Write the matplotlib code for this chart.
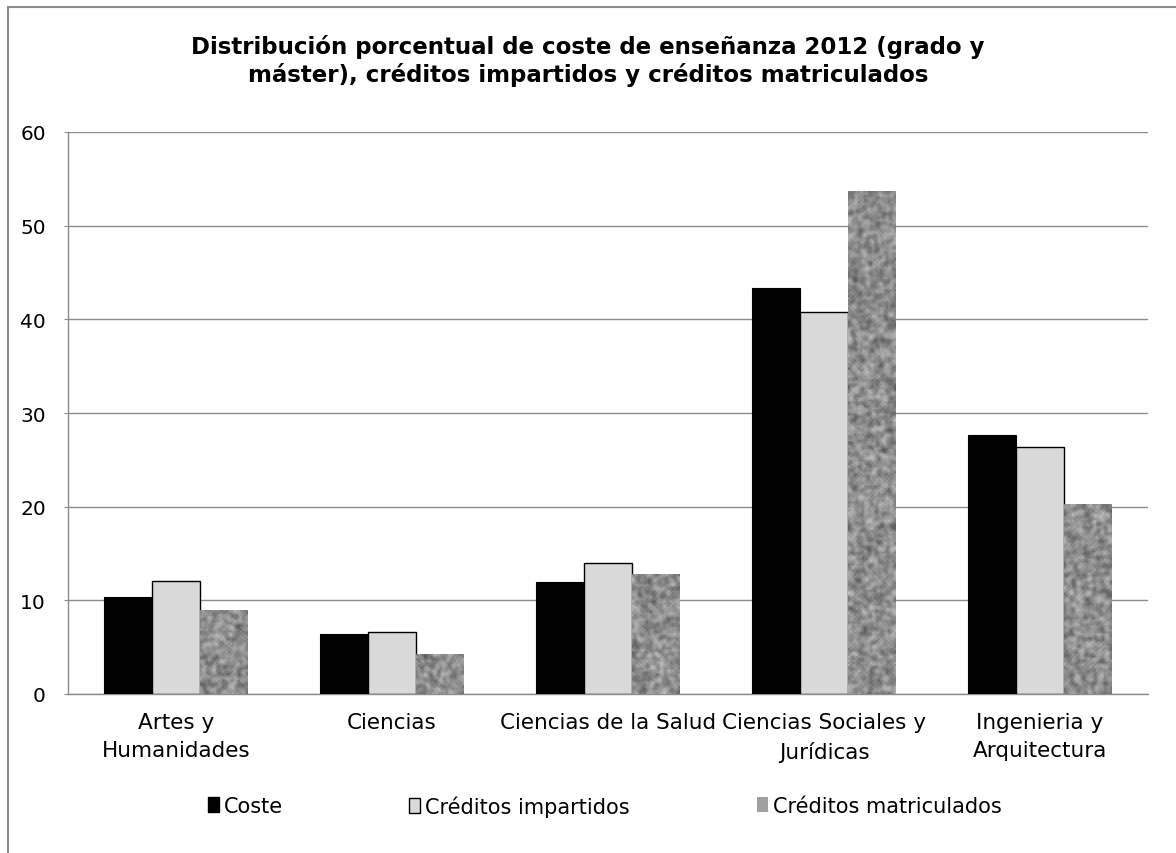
import numpy as np
import matplotlib
matplotlib.use("Agg")
import matplotlib.pyplot as plt
from matplotlib.patches import Rectangle, Patch

categories = ["Artes y\nHumanidades", "Ciencias", "Ciencias de la Salud",
              "Ciencias Sociales y\nJurídicas", "Ingenieria y\nArquitectura"]
coste = [10.4, 6.4, 12.0, 43.3, 27.6]
impartidos = [12.1, 6.6, 14.0, 40.8, 26.4]
matriculados = [8.9, 4.2, 12.8, 53.6, 20.2]
series_names = ["Coste", "Créditos impartidos", "Créditos matriculados"]
title = "Distribución porcentual de coste de enseñanza 2012 (grado y\nmáster), créditos impartidos y créditos matriculados"

plt.rcParams['font.family'] = ['DejaVu Sans']

fig = plt.figure(figsize=(11.76, 8.54), dpi=100)
fig.patch.set_facecolor("white")
# outer frame of the chart picture
fig.add_artist(Rectangle((8/1176, -0.1), 1.2, 1 - 8/854 + 0.1, transform=fig.transFigure,
                         fill=False, edgecolor="#8c8c8c", linewidth=1.5))

ax = fig.add_axes([68/1176, 1 - 695/854, (1148 - 68)/1176, (695 - 133)/854])
x = np.arange(len(categories))
w = 0.222
b1 = ax.bar(x - w, coste, w, color="black", edgecolor="black", linewidth=0.8, zorder=3)
b2 = ax.bar(x, impartidos, w, color="#d9d9d9", edgecolor="black", linewidth=1.0, zorder=3)
b3 = ax.bar(x + w, matriculados, w, color="#9a9a9a", edgecolor="none", linewidth=0, zorder=3)

# mottled texture for the third series (style only)
rng = np.random.default_rng(7)
def blur(a, k=1):
    out = a.copy()
    for _ in range(k):
        out = (out + np.roll(out, 1, 0) + np.roll(out, -1, 0) + np.roll(out, 1, 1) + np.roll(out, -1, 1)) / 5
    return out
for rect in b3:
    x0, y0 = rect.get_x(), rect.get_y()
    wd, ht = rect.get_width(), rect.get_height()
    npx_h = max(4, int(ht / 60 * 562 / 2.0))
    npx_w = max(4, int(48 / 2.0))
    tex = blur(rng.random((npx_h, npx_w)), 1)
    tex = (tex - tex.mean()) / (tex.std() + 1e-9)
    ax.imshow(tex, cmap="gray", vmin=-7.5, vmax=6.0, extent=(x0, x0 + wd, y0, y0 + ht),
              aspect="auto", interpolation="bilinear", zorder=3.5)

ax.set_xlim(-0.5, len(categories) - 0.5)
ax.set_ylim(0, 60)
ax.set_yticks(np.arange(0, 61, 10))
ax.yaxis.grid(True, color="#8c8c8c", linewidth=1.0, zorder=0)
ax.set_axisbelow(True)
for s in ["top", "right"]:
    ax.spines[s].set_visible(False)
for s in ["left", "bottom"]:
    ax.spines[s].set_color("#8c8c8c")
    ax.spines[s].set_linewidth(1.0)
ax.set_xticks(x)
ax.set_xticklabels(categories, fontsize=15.5, linespacing=1.5)
ax.tick_params(axis="x", length=0, pad=13)
ax.tick_params(axis="y", length=3, color="#8c8c8c", labelsize=14.5, pad=13)

fig.text(0.5, 1 - 61/854, title, ha="center", va="center", fontsize=16.5, fontweight="bold",
         linespacing=1.2)

handles = [Patch(facecolor="black", edgecolor="black"),
           Patch(facecolor="#d9d9d9", edgecolor="black"),
           Patch(facecolor="#a0a0a0", edgecolor="none")]
positions = [208, 409, 757]
for h, n, px in zip(handles, series_names, positions):
    fig.legend([h], [n], loc="center left", bbox_to_anchor=(px / 1176, 1 - 807/854),
               frameon=False, fontsize=15, handlelength=0.55, handleheight=0.7,
               handletextpad=0.2, borderpad=0, borderaxespad=0)

fig.savefig("out.png", dpi=100)
